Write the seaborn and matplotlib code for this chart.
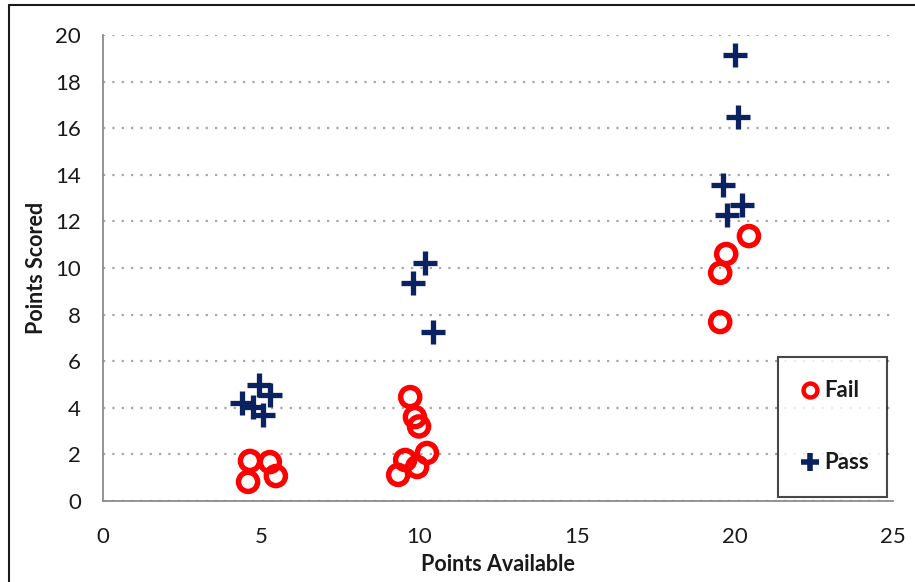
import matplotlib
matplotlib.use("Agg")
import matplotlib.pyplot as plt
from matplotlib.lines import Line2D
import pandas as pd
import seaborn as sns

# Assignment scores: points available vs. points scored, split by outcome
fail_available = [4.65, 5.28, 4.59, 5.47,
                  9.72, 9.87, 10.0, 10.25, 9.56, 9.94, 9.34,
                  19.53, 19.53, 19.72, 20.44]
fail_scored = [1.72, 1.67, 0.82, 1.07,
               4.46, 3.6, 3.2, 2.06, 1.76, 1.46, 1.12,
               7.68, 9.79, 10.6, 11.37]

pass_available = [4.95, 5.28, 4.4, 4.75, 5.06,
                  10.19, 9.81, 10.44,
                  20.0, 20.1, 19.62, 20.22, 19.75]
pass_scored = [4.98, 4.55, 4.2, 4.03, 3.69,
               10.21, 9.36, 7.25,
               19.14, 16.48, 13.56, 12.7, 12.27]

x_ticks = [0, 5, 10, 15, 20, 25]
y_ticks = [0, 2, 4, 6, 8, 10, 12, 14, 16, 18, 20]

fail_df = pd.DataFrame({"Points Available": fail_available,
                        "Points Scored": fail_scored})
pass_df = pd.DataFrame({"Points Available": pass_available,
                        "Points Scored": pass_scored})

sns.set_style("white")
plt.rcParams["font.family"] = ["Lato", "DejaVu Sans"]

RED = "#FF0000"
NAVY = "#0B2260"
GRID = "#A6A6A6"
AXIS = "#8C8C8C"
TEXT = "#1a1a1a"

fig = plt.figure(figsize=(9.15, 5.82), dpi=100)
ax = fig.add_axes([0.1126, 0.1392, 0.8634, 0.8007])

sns.scatterplot(data=fail_df, x="Points Available", y="Points Scored", ax=ax,
                marker="o", s=190, facecolors="none", edgecolor=RED,
                linewidth=3.9, zorder=3)
sns.scatterplot(data=pass_df, x="Points Available", y="Points Scored", ax=ax,
                marker="+", s=290, color=NAVY, linewidth=3.8, zorder=4)

ax.set_xlim(0, 25)
ax.set_ylim(0, 20)
ax.set_xticks(x_ticks)
ax.set_yticks(y_ticks)
ax.tick_params(axis="both", labelsize=16, colors=AXIS, labelcolor=TEXT,
               length=8, width=1.2, direction="out")
ax.tick_params(axis="x", pad=11)
ax.tick_params(axis="y", pad=8)

ax.yaxis.grid(True, linestyle=(0, (1, 3.2)), color=GRID, linewidth=1.6)
ax.xaxis.grid(False)
ax.set_axisbelow(True)

for side in ("top", "right"):
    ax.spines[side].set_visible(False)
for side in ("left", "bottom"):
    ax.spines[side].set_color(AXIS)
    ax.spines[side].set_linewidth(1.3)

ax.set_xlabel("Points Available", fontsize=15.5, fontweight="bold",
              labelpad=5, color=TEXT)
ax.set_ylabel("Points Scored", fontsize=15.5, fontweight="bold",
              labelpad=6, color=TEXT)

handles = [
    Line2D([], [], linestyle="none", marker="o", markersize=10,
           markerfacecolor="none", markeredgecolor=RED, markeredgewidth=3.2),
    Line2D([], [], linestyle="none", marker="+", markersize=13,
           color=NAVY, markeredgewidth=4.0),
]
leg = ax.legend(handles, ["Fail", "Pass"], loc="center",
                bbox_to_anchor=(0.854, 0.009, 0.138, 0.30), mode="expand",
                fontsize=16, labelspacing=2.3, borderpad=1.05,
                handlelength=0.8, handletextpad=0.25, borderaxespad=0,
                frameon=True, fancybox=False)
leg.get_frame().set_edgecolor(TEXT)
leg.get_frame().set_linewidth(1.5)
for t in leg.get_texts():
    t.set_fontweight("bold")
    t.set_color(TEXT)

# Chart-area frame along the top and left edges
fig.add_artist(Line2D([9 / 915, 1.0], [1 - 5 / 582, 1 - 5 / 582],
                      transform=fig.transFigure, color=TEXT, linewidth=1.5))
fig.add_artist(Line2D([9 / 915, 9 / 915], [0.0, 1 - 5 / 582],
                      transform=fig.transFigure, color=TEXT, linewidth=1.5))

fig.savefig("out.png", dpi=100)
